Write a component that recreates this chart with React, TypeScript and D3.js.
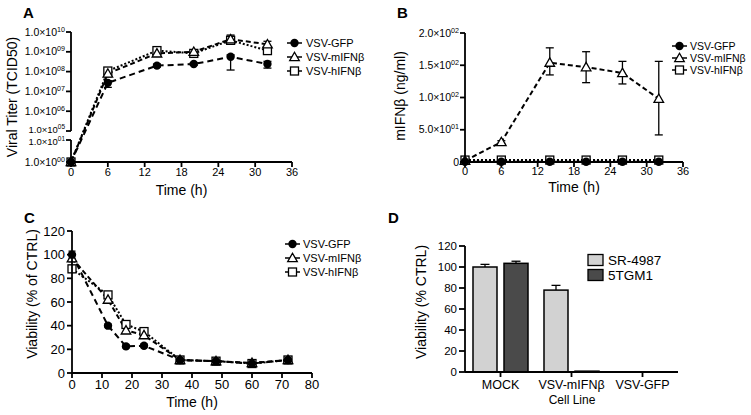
import React from 'react';
import * as d3 from 'd3';

// ---------- Data ----------
const seriesNames = ['VSV-GFP', 'VSV-mIFNβ', 'VSV-hIFNβ'];
const seriesMarkers = ['circle', 'triangle', 'square'];
const seriesDash = ['6,4', '5,3', '2,2'];

// Panel A: viral titer (TCID50)
const timesA = [0, 6, 14, 20, 26, 32];
const titerGFP = [1, 2.7e7, 2.0e8, 2.4e8, 5.6e8, 2.4e8];
const titerGFPLo = [1, 1.6e7, 1.7e8, 2.1e8, 1.2e8, 1.5e8];
const titerGFPHi = [1, 3.5e7, 2.4e8, 2.8e8, 7.0e8, 3.3e8];
const titerM = [1, 8.0e7, 8.3e8, 1.0e9, 4.3e9, 2.4e9];
const titerMLo = [1, 5.5e7, 6.5e8, 8.5e8, 2.5e9, 1.5e9];
const titerMHi = [1, 1.1e8, 1.0e9, 1.2e9, 7.0e9, 3.4e9];
const titerH = [1, 1.07e8, 1.15e9, 8.3e8, 3.8e9, 1.15e9];
const titerHLo = [1, 8.0e7, 9.5e8, 7.0e8, 2.5e9, 8.0e8];
const titerHHi = [1, 1.3e8, 1.35e9, 1.0e9, 6.0e9, 1.5e9];
const titerTickExp = [0, 1, 5, 6, 7, 8, 9, 10];
const titerTickSup = ['00', '01', '05', '06', '07', '08', '09', '10'];

// Panel B: mIFNβ (ng/ml)
const timesB = [0, 6, 14, 20, 26, 32];
const ifnGFP = [0.5, 0.5, 0.5, 0.5, 0.5, 0.5];
const ifnM = [2, 31, 154, 147, 138, 98];
const ifnMLo = [2, 29, 135, 123, 121, 42];
const ifnMHi = [2, 33, 177, 171, 156, 156];
const ifnH = [3, 3, 3, 3, 3, 3];
const ifnTicks = [0, 50, 100, 150, 200];
const ifnTickMain = ['0', '5.0×10', '1.0×10', '1.5×10', '2.0×10'];
const ifnTickSup = ['', '01', '02', '02', '02'];

// Panel C: viability over time
const timesC = [0, 12, 18, 24, 36, 48, 60, 72];
const viaGFP = [100, 40, 22.5, 23, 11, 10, 8, 11];
const viaGFPErr = [3, 1.5, 1.5, 1.5, 1.5, 1, 1, 1.5];
const viaM = [97, 62, 36, 32, 11, 10, 8.5, 11];
const viaMErr = [3, 2, 2, 2, 1.5, 1, 1, 1.5];
const viaH = [88, 66, 41, 35, 11, 10, 8, 11];
const viaHErr = [3, 2, 2, 2, 1.5, 1, 1, 1.5];
const viaCTicks = [0, 20, 40, 60, 80, 100, 120];
const timeCTicks = [0, 10, 20, 30, 40, 50, 60, 70, 80];

// Panel D: viability by cell line
const cellCategories = ['MOCK', 'VSV-mIFNβ', 'VSV-GFP'];
const cellSeries = ['SR-4987', '5TGM1'];
const cellSR = [100, 78, 0];
const cellSRErr = [2.5, 4.5, 0];
const cell5TGM1 = [103.5, 0.8, 0];
const cell5TGM1Err = [2, 0, 0];
const cellColors = ['#d2d2d2', '#4a4a4a'];
const viaDTicks = [0, 20, 40, 60, 80, 100, 120];

const timeABTicks = [0, 6, 12, 18, 24, 30, 36];

const FONT = '"Liberation Sans", Arial, Helvetica, sans-serif';
const SW = 1.8;
const drawOrder = [2, 1, 0];

// ---------- helpers ----------
function Marker({ type, x, y }: { type: string; x: number; y: number }) {
  if (type === 'circle') return <circle cx={x} cy={y} r={4.2} fill="#000" />;
  if (type === 'triangle') {
    const s = 4.8;
    return (
      <path
        d={`M${x},${y - s} L${x + s},${y + s * 0.75} L${x - s},${y + s * 0.75} Z`}
        fill="#fff"
        stroke="#000"
        strokeWidth={1.3}
      />
    );
  }
  return <rect x={x - 4} y={y - 4} width={8} height={8} fill="#fff" stroke="#000" strokeWidth={1.3} />;
}

function ErrBar({ x, y1, y2, w = 8 }: { x: number; y1: number; y2: number; w?: number }) {
  if (Math.abs(y1 - y2) < 1) return null;
  return (
    <g stroke="#000" strokeWidth={1.3}>
      <line x1={x} x2={x} y1={y1} y2={y2} />
      <line x1={x - w / 2} x2={x + w / 2} y1={y1} y2={y1} />
      <line x1={x - w / 2} x2={x + w / 2} y1={y2} y2={y2} />
    </g>
  );
}

function Legend({ x, ys, textX, fontSize }: { x: number; ys: number[]; textX: number; fontSize: number }) {
  return (
    <g>
      {seriesNames.map((n, i) => (
        <g key={n}>
          <line x1={x} x2={x + 15} y1={ys[i]} y2={ys[i]} stroke="#000" strokeWidth={1.5} />
          <Marker type={seriesMarkers[i]} x={x + 7.5} y={ys[i]} />
          <text x={textX} y={ys[i]} dy="0.35em" fontSize={fontSize} fontFamily={FONT}>
            {n}
          </text>
        </g>
      ))}
    </g>
  );
}

function SupLabel({ x, y, main, sup, fs }: { x: number; y: number; main: string; sup: string; fs: number }) {
  return (
    <text x={x} y={y} dy="0.35em" textAnchor="end" fontSize={fs} fontFamily={FONT}>
      {main}
      {sup ? (
        <tspan fontSize={fs * 0.68} dy={-fs * 0.38}>
          {sup}
        </tspan>
      ) : null}
    </text>
  );
}

// ---------- Panels ----------
function PanelA() {
  const x = d3.scaleLinear().domain([0, 36]).range([71, 292]);
  const yl = d3.scaleLinear().domain([0, 1, 5, 10]).range([162, 140, 131, 32]);
  const y = (v: number) => yl(Math.log10(v));
  const vals = [titerGFP, titerM, titerH];
  const los = [titerGFPLo, titerMLo, titerHLo];
  const his = [titerGFPHi, titerMHi, titerHHi];
  const labelNudge = (e: number) => (e === 5 ? -1.5 : e === 1 ? 1.5 : 0);
  return (
    <g>
      {vals.map((s, si) => {
        const line = d3
          .line<number>()
          .x((_, i) => x(timesA[i]))
          .y((d) => y(d));
        return (
          <path key={si} d={line(s) || ''} fill="none" stroke="#000" strokeWidth={2} strokeDasharray={seriesDash[si]} />
        );
      })}
      {vals.map((s, si) =>
        s.map((v, i) => <ErrBar key={`e${si}${i}`} x={x(timesA[i])} y1={y(los[si][i])} y2={y(his[si][i])} />)
      )}
      {drawOrder.map((si) =>
        vals[si].map((v, i) => <Marker key={`m${si}${i}`} type={seriesMarkers[si]} x={x(timesA[i])} y={y(v)} />)
      )}
      {/* axes */}
      <g stroke="#000" strokeWidth={SW}>
        <line x1={x(0)} x2={x(0)} y1={yl(10)} y2={yl(5)} />
        <line x1={x(0)} x2={x(0)} y1={yl(1)} y2={yl(0)} />
        <line x1={x(0)} x2={x(36)} y1={yl(0)} y2={yl(0)} />
        {titerTickExp.map((e) => (
          <line key={e} x1={x(0) - 5} x2={x(0)} y1={yl(e)} y2={yl(e)} />
        ))}
        {timeABTicks.map((t) => (
          <line key={t} x1={x(t)} x2={x(t)} y1={yl(0)} y2={yl(0) + 5} />
        ))}
      </g>
      {titerTickExp.map((e, i) => (
        <SupLabel
          key={e}
          x={x(0) - 6}
          y={yl(e) + labelNudge(e)}
          main="1.0×10"
          sup={titerTickSup[i]}
          fs={e === 1 || e === 5 ? 9.5 : 10.5}
        />
      ))}
      {timeABTicks.map((t) => (
        <text key={t} x={x(t)} y={176} textAnchor="middle" fontSize={11} fontFamily={FONT}>
          {t}
        </text>
      ))}
      <text x={181.5} y={195} textAnchor="middle" fontSize={14} fontFamily={FONT}>
        Time (h)
      </text>
      <text transform="translate(17,97) rotate(-90)" textAnchor="middle" fontSize={14} fontFamily={FONT}>
        Viral Titer (TCID50)
      </text>
      <Legend x={287} ys={[43, 57, 71]} textX={306} fontSize={11} />
      <text x={23} y={18} fontSize={15} fontWeight="bold" fontFamily={FONT}>
        A
      </text>
    </g>
  );
}

function PanelB() {
  const x = d3.scaleLinear().domain([0, 36]).range([465, 683]);
  const y = d3.scaleLinear().domain([0, 200]).range([162, 33]);
  const vals = [ifnGFP, ifnM, ifnH];
  return (
    <g>
      {vals.map((s, si) => {
        const line = d3
          .line<number>()
          .x((_, i) => x(timesB[i]))
          .y((d) => y(d));
        return (
          <path key={si} d={line(s) || ''} fill="none" stroke="#000" strokeWidth={2} strokeDasharray={seriesDash[si]} />
        );
      })}
      {ifnM.map((v, i) => (
        <ErrBar key={`e${i}`} x={x(timesB[i])} y1={y(ifnMLo[i])} y2={y(ifnMHi[i])} />
      ))}
      {drawOrder.map((si) =>
        vals[si].map((v, i) => <Marker key={`m${si}${i}`} type={seriesMarkers[si]} x={x(timesB[i])} y={y(v)} />)
      )}
      <g stroke="#000" strokeWidth={SW}>
        <line x1={x(0)} x2={x(0)} y1={y(200)} y2={y(0)} />
        <line x1={x(0)} x2={x(36)} y1={y(0)} y2={y(0)} />
        {ifnTicks.map((t) => (
          <line key={t} x1={x(0) - 5} x2={x(0)} y1={y(t)} y2={y(t)} />
        ))}
        {timeABTicks.map((t) => (
          <line key={t} x1={x(t)} x2={x(t)} y1={y(0)} y2={y(0) + 5} />
        ))}
      </g>
      {ifnTicks.map((t, i) => (
        <SupLabel key={t} x={x(0) - 6} y={y(t)} main={ifnTickMain[i]} sup={ifnTickSup[i]} fs={10.5} />
      ))}
      {timeABTicks.map((t) => (
        <text key={t} x={x(t)} y={175} textAnchor="middle" fontSize={11} fontFamily={FONT}>
          {t}
        </text>
      ))}
      <text x={574} y={192} textAnchor="middle" fontSize={14} fontFamily={FONT}>
        Time (h)
      </text>
      <text transform="translate(405,96) rotate(-90)" textAnchor="middle" fontSize={14} fontFamily={FONT}>
        mIFNβ (ng/ml)
      </text>
      <Legend x={672} ys={[46, 58, 70]} textX={690} fontSize={10.5} />
      <text x={397} y={18} fontSize={15} fontWeight="bold" fontFamily={FONT}>
        B
      </text>
    </g>
  );
}

function PanelC() {
  const x = d3.scaleLinear().domain([0, 80]).range([72, 312]);
  const y = d3.scaleLinear().domain([0, 120]).range([373, 231]);
  const vals = [viaGFP, viaM, viaH];
  const errs = [viaGFPErr, viaMErr, viaHErr];
  return (
    <g>
      {vals.map((s, si) => {
        const line = d3
          .line<number>()
          .x((_, i) => x(timesC[i]))
          .y((d) => y(d));
        return (
          <path key={si} d={line(s) || ''} fill="none" stroke="#000" strokeWidth={2} strokeDasharray={seriesDash[si]} />
        );
      })}
      {vals.map((s, si) =>
        s.map((v, i) => (
          <ErrBar key={`e${si}${i}`} x={x(timesC[i])} y1={y(v - errs[si][i])} y2={y(v + errs[si][i])} w={7} />
        ))
      )}
      {drawOrder.map((si) =>
        vals[si].map((v, i) => <Marker key={`m${si}${i}`} type={seriesMarkers[si]} x={x(timesC[i])} y={y(v)} />)
      )}
      <g stroke="#000" strokeWidth={SW}>
        <line x1={x(0)} x2={x(0)} y1={y(120)} y2={y(0)} />
        <line x1={x(0)} x2={x(80)} y1={y(0)} y2={y(0)} />
        {viaCTicks.map((t) => (
          <line key={t} x1={x(0) - 5} x2={x(0)} y1={y(t)} y2={y(t)} />
        ))}
        {timeCTicks.map((t) => (
          <line key={t} x1={x(t)} x2={x(t)} y1={y(0)} y2={y(0) + 5} />
        ))}
      </g>
      {viaCTicks.map((t) => (
        <text key={t} x={x(0) - 7} y={y(t)} dy="0.35em" textAnchor="end" fontSize={13} fontFamily={FONT}>
          {t}
        </text>
      ))}
      {timeCTicks.map((t) => (
        <text key={t} x={x(t)} y={389} textAnchor="middle" fontSize={13} fontFamily={FONT}>
          {t}
        </text>
      ))}
      <text x={192} y={407} textAnchor="middle" fontSize={14} fontFamily={FONT}>
        Time (h)
      </text>
      <text transform="translate(37,294) rotate(-90)" textAnchor="middle" fontSize={14} fontFamily={FONT}>
        Viability (% of CTRL)
      </text>
      <Legend x={285} ys={[244, 258, 272]} textX={303} fontSize={11} />
      <text x={24} y={223} fontSize={15} fontWeight="bold" fontFamily={FONT}>
        C
      </text>
    </g>
  );
}

function PanelD() {
  const x = d3.scaleBand().domain(cellCategories).range([465, 678]).padding(0);
  const xs = d3.scaleBand().domain(cellSeries).range([0, x.bandwidth()]).paddingInner(0.226).paddingOuter(0.258);
  const y = d3.scaleLinear().domain([0, 120]).range([372, 246]);
  const vals = [cellSR, cell5TGM1];
  const errs = [cellSRErr, cell5TGM1Err];
  return (
    <g>
      {vals.map((s, si) =>
        s.map((v, i) => {
          const bx = (x(cellCategories[i]) || 0) + (xs(cellSeries[si]) || 0);
          const bw = xs.bandwidth();
          const e = errs[si][i];
          return (
            <g key={`b${si}${i}`}>
              {e > 0 ? (
                <g stroke="#000" strokeWidth={1.3}>
                  <line x1={bx + bw / 2} x2={bx + bw / 2} y1={y(v)} y2={y(v + e)} />
                  <line x1={bx + bw / 2 - 4.5} x2={bx + bw / 2 + 4.5} y1={y(v + e)} y2={y(v + e)} />
                </g>
              ) : null}
              <rect x={bx} y={y(v)} width={bw} height={y(0) - y(v)} fill={cellColors[si]} stroke="#000" strokeWidth={1.5} />
            </g>
          );
        })
      )}
      <g stroke="#000" strokeWidth={SW}>
        <line x1={465} x2={465} y1={y(120)} y2={y(0)} />
        <line x1={465} x2={678} y1={y(0)} y2={y(0)} />
        {viaDTicks.map((t) => (
          <line key={t} x1={459} x2={465} y1={y(t)} y2={y(t)} />
        ))}
        {cellCategories.map((c) => (
          <line
            key={c}
            x1={(x(c) || 0) + x.bandwidth() / 2}
            x2={(x(c) || 0) + x.bandwidth() / 2}
            y1={y(0)}
            y2={y(0) + 5}
          />
        ))}
      </g>
      {viaDTicks.map((t) => (
        <text key={t} x={457} y={y(t)} dy="0.35em" textAnchor="end" fontSize={11.5} fontFamily={FONT}>
          {t}
        </text>
      ))}
      {cellCategories.map((c) => (
        <text key={c} x={(x(c) || 0) + x.bandwidth() / 2} y={389} textAnchor="middle" fontSize={12.5} fontFamily={FONT}>
          {c}
        </text>
      ))}
      <text x={572} y={404} textAnchor="middle" fontSize={12} fontFamily={FONT}>
        Cell Line
      </text>
      <text transform="translate(426,302) rotate(-90)" textAnchor="middle" fontSize={14} fontFamily={FONT}>
        Viability (% CTRL)
      </text>
      {cellSeries.map((s, i) => (
        <g key={s}>
          <rect x={588} y={254.5 + i * 15} width={15} height={11} fill={cellColors[i]} stroke="#000" strokeWidth={1.3} />
          <text x={608} y={260 + i * 15} dy="0.35em" fontSize={13.5} fontFamily={FONT}>
            {s}
          </text>
        </g>
      ))}
      <text x={388} y={223} fontSize={15} fontWeight="bold" fontFamily={FONT}>
        D
      </text>
    </g>
  );
}

export default function App() {
  return (
    <svg
      width={751}
      height={415}
      viewBox="0 0 751 415"
      style={{ position: 'absolute', left: 0, top: 0, background: '#fff' }}
    >
      <rect width={751} height={415} fill="#fff" />
      <PanelA />
      <PanelB />
      <PanelC />
      <PanelD />
    </svg>
  );
}
